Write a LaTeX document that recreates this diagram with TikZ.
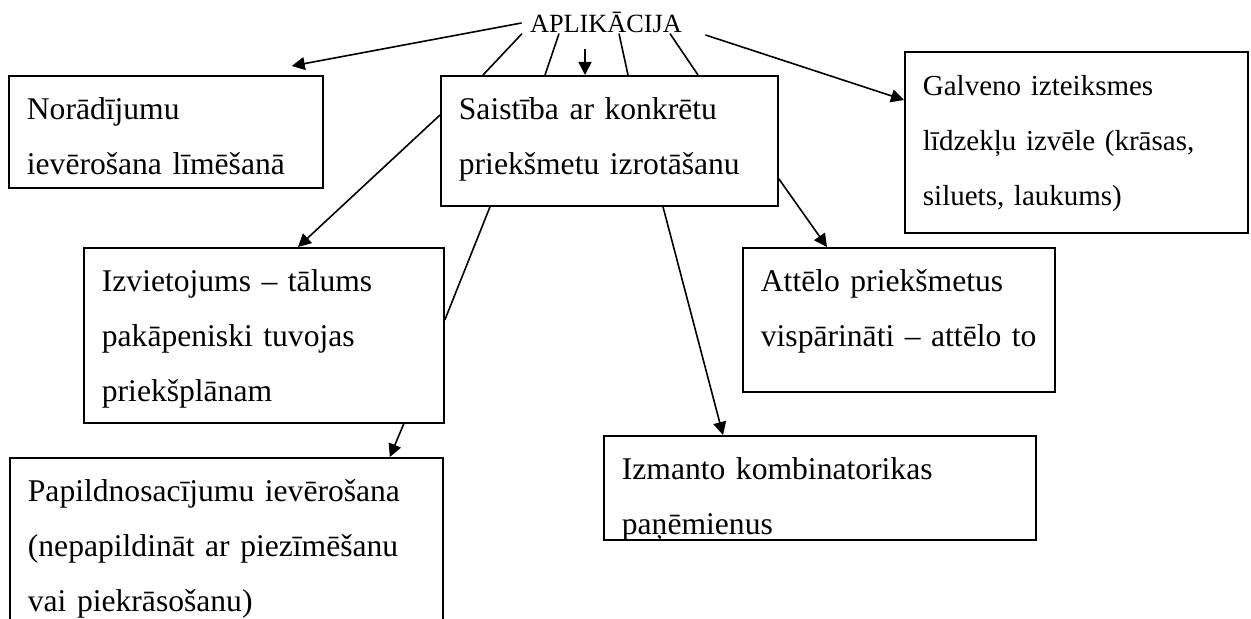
\documentclass[tikz,border=0pt]{standalone}
\usepackage{fontspec}
\setmainfont{Liberation Serif}
\usepackage{tikz}
\usetikzlibrary{arrows.meta,calc}

\begin{document}
\begin{tikzpicture}[x=0.5pt,y=-0.5pt,
    box/.style 2 args={draw, line width=0.9pt, anchor=north west, align=left,
      inner xsep=9pt, inner ysep=0pt, text width=#1, text height=22pt, text depth=#2,
      font=\fontsize{15.8pt}{27.5pt}\selectfont},
    link/.style={line width=0.8pt},
    arr/.style={line width=0.8pt, -{Triangle[length=6.5pt,width=6.5pt]}}]
    \clip (0,0) rectangle (1251,619);
    \node[anchor=base, inner sep=0pt, font=\fontsize{13.15pt}{15pt}\selectfont] (app) at (606,33) {APLIKĀCIJA};
    \node[box={139pt}{34pt}] (nor) at (8,75) {Norādījumu\\ievērošana līmēšanā};
    \node[box={150.5pt}{43pt}] (sai) at (440,75) {Saistība ar konkrētu\\priekšmetu izrotāšanu};
    \node[box={153.5pt}{68.5pt}, font=\fontsize{14.5pt}{27.5pt}\selectfont] (gal) at (904,51) {Galveno izteiksmes\\līdzekļu izvēle (krāsas,\\siluets, laukums)};
    \node[box={162pt}{65.5pt}] (izv) at (83,247) {Izvietojums – tālums\\pakāpeniski tuvojas\\priekšplānam};
    \node[box={138pt}{50pt}] (att) at (742,247) {Attēlo priekšmetus\\vispārināti – attēlo to};
    \node[box={198pt}{30pt}] (izm) at (603,435) {Izmanto kombinatorikas\\paņēmienus};
    \node[box={198.5pt}{65pt}] (pap) at (9,457) {Papildnosacījumu ievērošana\\(nepapildināt ar piezīmēšanu\\vai piekrāsošanu)};

    % from the title
    \draw[arr] ($(app.west)+(-8,0)$) -- ($(nor.north east)+(-32,-9)$);
    \draw[link] ($(app.south)+(-84,0)$) -- ($(sai.north west)+(43,0)$);
    \draw[link] ($(app.south)+(-47,0)$) -- ($(sai.north west)+(105,0)$);
    \draw[arr] ($(app.south)+(-21,15)$) -- ($(sai.north west)+(145,0)$);
    \draw[link] ($(app.south)+(13,0)$) -- ($(sai.north west)+(188,0)$);
    \draw[link] ($(app.south)+(64,0)$) -- ($(sai.north west)+(258,0)$);
    \draw[arr] ($(app.east)+(23,12)$) -- ($(gal.north west)+(0,49)$);

    % from the middle box
    \draw[arr] ($(sai.north west)+(0,40)$) -- ($(izv.north west)+(215,0)$);
    \draw[link] ($(sai.south west)+(50,0)$) -- ($(izv.north east)+(0,73)$);
    \draw[arr] ($(izv.south east)+(-41,0)$) -- ($(pap.north east)+(-54,0)$);
    \draw[arr] ($(sai.south west)+(223,0)$) -- ($(izm.north west)+(120,0)$);
    \draw[arr] ($(sai.south east)+(0,-28)$) -- ($(att.north west)+(85,0)$);
\end{tikzpicture}
\end{document}
